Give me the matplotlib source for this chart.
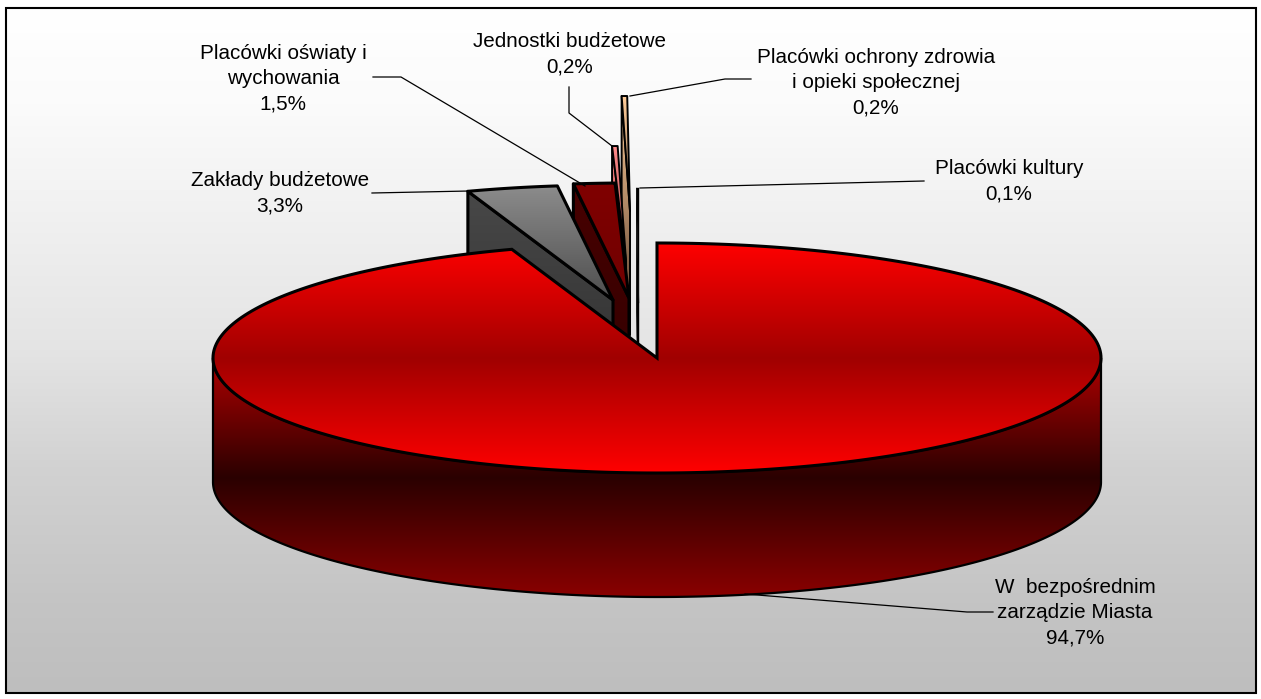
import numpy as np
import matplotlib
matplotlib.use("Agg")
import matplotlib.pyplot as plt
from matplotlib.colors import LinearSegmentedColormap
from matplotlib.patches import Polygon, Rectangle

plt.rcParams["font.family"] = ["Liberation Sans", "DejaVu Sans"]

# ── Dane ────────────────────────────────────────────────────────────────────
labels = [
    "W  bezpośrednim\nzarządzie Miasta\n94,7%",
    "Zakłady budżetowe\n3,3%",
    "Placówki oświaty i\nwychowania\n1,5%",
    "Jednostki budżetowe\n0,2%",
    "Placówki ochrony zdrowia\ni opieki społecznej\n0,2%",
    "Placówki kultury\n0,1%",
]
shares = [94.7, 3.3, 1.5, 0.2, 0.2, 0.1]
label_xy = [(1075, 613), (280, 193), (283, 78.5), (569.5, 54.5), (876, 83), (1009, 181)]
leaders = [
    [(993, 612), (967, 612), (745, 594)],
    [(372, 193), (469, 191)],
    [(373, 77), (401, 77), (585, 186)],
    [(569, 87), (569, 113), (612, 146)],
    [(751, 79), (725, 79), (630, 96)],
    [(924, 181), (640, 188)],
]
# przesunięcie wycinków (wysunięcie) w pikselach
offsets = [(0, 0), (-44, -58), (-28, -60), (-31, -97), (-27, -147), (-18, -55)]
top_colors = [
    None,
    ["#8c8c8c", "#4e4e4e"],
    ["#800000", "#700000"],
    ["#ff8a8a", "#a04848"],
    ["#ffcc99", "#8a6a50"],
    ["#000000", "#000000"],
]
side_colors = [
    None,
    ["#484848", "#2c2c2c"],
    ["#480000", "#300000"],
    ["#ff8080", "#602828"],
    ["#ffcc99", "#503828"],
    ["#000000", "#000000"],
]
# kolejność rysowania małych wycinków (od tyłu do przodu)
draw_order = [5, 4, 3, 2, 1]
edge_widths = [2.2, 2.2, 2.2, 1.4, 1.4, 0.3]

W, H = 1261, 699
CX, CY, RX, RY, DEPTH = 657, 358, 444, 115, 124

fig = plt.figure(figsize=(W / 100, H / 100), dpi=100)
ax = fig.add_axes([0, 0, 1, 1])
ax.set_xlim(0, W)
ax.set_ylim(H, 0)
ax.axis("off")
fig.patch.set_facecolor("white")


def gradient(stops, patch, extent, zorder):
    """Pionowy gradient przycięty do kształtu."""
    ax.add_patch(patch)
    cmap = LinearSegmentedColormap.from_list("g", stops)
    img = np.linspace(0, 1, 256).reshape(-1, 1)
    im = ax.imshow(img, cmap=cmap, extent=extent, aspect="auto", zorder=zorder,
                   interpolation="bilinear")
    im.set_clip_path(patch)


def rim(a0, a1, dx=0, dy=0, n=300):
    # kąt liczony zgodnie z zegarem od góry
    t = np.radians(np.linspace(a0, a1, n))
    return np.column_stack([CX + dx + RX * np.sin(t), CY + dy - RY * np.cos(t)])


# tło
bg = Rectangle((6, 8), 1250, 685, fc="none", ec="none")
gradient([(0, "#ffffff"), (0.14, "#fbfbfb"), (0.5, "#e4e4e4"), (0.67, "#d2d2d2"),
          (0.87, "#c4c4c4"), (1, "#bebebe")], bg, (6, 1256, 693, 8), 0)
ax.add_patch(Rectangle((6, 8), 1250, 685, fc="none", ec="black", lw=1.5, zorder=50))

angles = 360 * np.cumsum([0] + shares) / sum(shares)

# ── Małe wycinki (za głównym) ───────────────────────────────────────────────
for k, i in enumerate(draw_order):
    dx, dy = offsets[i]
    a0, a1 = angles[i], angles[i + 1]
    arc = rim(a0, a1, dx, dy, 30)
    apex = np.array([CX + dx, CY + dy])
    z = 3 + 2 * k
    lw = edge_widths[i]
    side = np.array([arc[0], apex, apex + [0, DEPTH], arc[0] + [0, DEPTH]])
    gradient(side_colors[i],
             Polygon(side, closed=True, fc="none", ec="none"),
             (side[:, 0].min(), side[:, 0].max(), side[:, 1].max(), side[:, 1].min()), z)
    ax.add_patch(Polygon(side, closed=True, fc="none", ec="black", lw=lw, zorder=z + 0.5,
                         joinstyle="round"))
    top = np.vstack([arc, apex])
    gradient(top_colors[i],
             Polygon(top, closed=True, fc="none", ec="none"),
             (top[:, 0].min(), top[:, 0].max(), top[:, 1].max(), top[:, 1].min()), z + 1)
    ax.add_patch(Polygon(top, closed=True, fc="none", ec="black", lw=lw, zorder=z + 1.5,
                         joinstyle="round"))

# ── Główny wycinek ──────────────────────────────────────────────────────────
a_end = angles[1]
front = rim(90, 270)
wall = np.vstack([front, (front + [0, DEPTH])[::-1]])
gradient([(0, "#b00000"), (0.5, "#2a0000"), (1, "#8a0000")],
         Polygon(wall, closed=True, fc="none", ec="none"),
         (CX - RX, CX + RX, CY + RY + DEPTH, CY), 20)
ax.add_patch(Polygon(wall, closed=True, fc="none", ec="black", lw=1.6, zorder=21))

top_main = np.vstack([rim(0, a_end), [CX, CY]])
gradient([(0, "#ff0000"), (0.5, "#a00000"), (1, "#ff0000")],
         Polygon(top_main, closed=True, fc="none", ec="none"),
         (CX - RX, CX + RX, CY + RY, CY - RY), 22)
ax.add_patch(Polygon(top_main, closed=True, fc="none", ec="black", lw=2.2, zorder=23,
                     joinstyle="miter"))

# ── Linie odniesienia i opisy ───────────────────────────────────────────────
for pts in leaders:
    xs, ys = zip(*pts)
    ax.plot(xs, ys, color="black", lw=0.9, zorder=30)
for txt, (x, y) in zip(labels, label_xy):
    ax.text(x, y, txt, ha="center", va="center", fontsize=14.9, color="black",
            linespacing=1.42, zorder=40)

ax.set_xlim(0, W)
ax.set_ylim(H, 0)
fig.savefig("out.png", dpi=100)
